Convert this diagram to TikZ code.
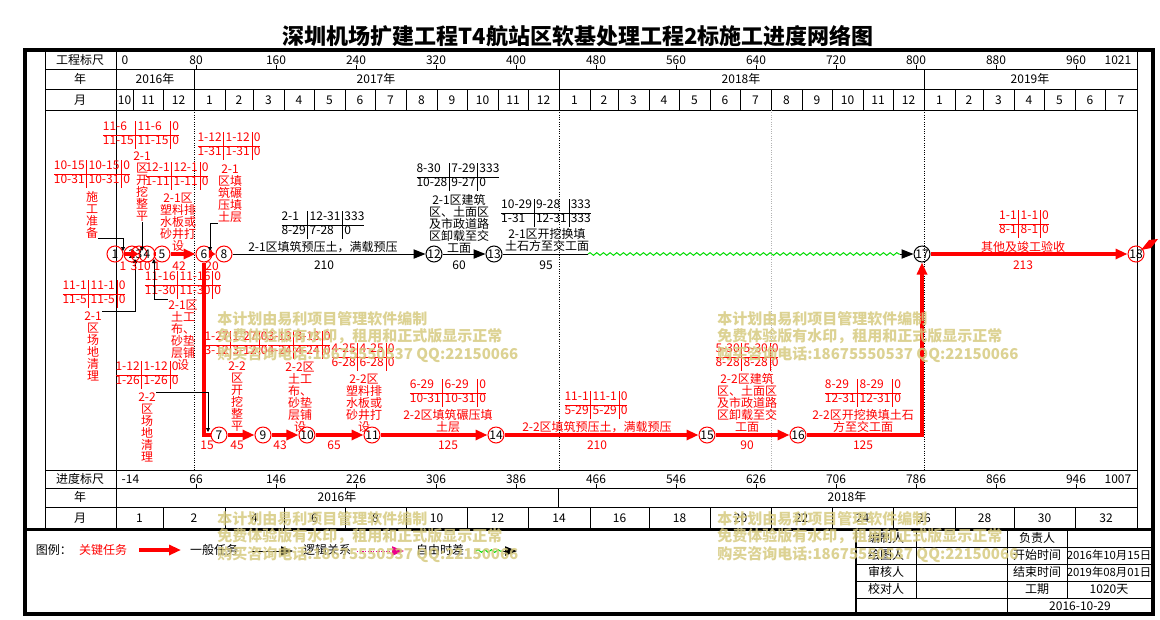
\documentclass[tikz,border=0pt]{standalone}
\usepackage{fontspec}
\setmainfont{Noto Sans CJK SC}
\usetikzlibrary{arrows.meta,decorations.pathmorphing}
\definecolor{wmark}{RGB}{214,202,128}
\definecolor{slackgreen}{RGB}{0,220,0}
\setlength{\tabcolsep}{1.5pt}
\newcommand{\dtab}[6]{\begin{tabular}{@{}l|l|l@{}}#1&#2&#3\\\hline#4&#5&#6\end{tabular}}
\newcommand{\wmtext}{本计划由易利项目管理软件编制\\免费体验版有水印，租用和正式版显示正常\\购买咨询电话:18675550537 QQ:22150066}
\begin{document}
\begin{tikzpicture}[x=0.75pt,y=-0.75pt,font=\fontsize{9}{9}\selectfont,
	nd/.style={circle,draw=red,line width=0.75pt,minimum size=12pt,inner sep=0pt},
	ndk/.style={nd,draw=black},
	crit/.style={draw=red,line width=3pt,-{Triangle[length=9pt,width=7.5pt]}},
	crits/.style={draw=red,line width=3pt,-{Triangle[length=5pt,width=6pt]}},
	critl/.style={draw=red,line width=3pt},
	gen/.style={draw=black,line width=0.75pt,-{Triangle[length=9pt,width=7pt]}},
	lead/.style={draw=black,line width=0.6pt,-{Triangle[length=3pt,width=3pt]}},
	slack/.style={draw=slackgreen,line width=0.75pt,decorate,decoration={snake,amplitude=1pt,segment length=5pt}},
	tb/.style={inner sep=0pt,text=red,font=\fontsize{9}{10}\selectfont},
	tbk/.style={tb,text=black},
	lb/.style={inner sep=0pt,align=center,text=red},
	lbk/.style={lb,text=black},
	du/.style={inner sep=0pt,text=red},
	duk/.style={du,text=black},
	wmk/.style={inner sep=0pt,align=left,text=wmark,opacity=0.85,font=\bfseries\fontsize{11.25}{13}\selectfont}]
	\useasboundingbox (0,0) rectangle (1160,619);
	%title
	\node[font=\bfseries\fontsize{16.5}{16.5}\selectfont] (title) at (578,36) {深圳机场扩建工程T4航站区软基处理工程2标施工进度网络图};
	%frame
	\draw[line width=3pt] (25,50) rectangle (1153,614);
	\draw[line width=2.25pt] (25,529) -- (1153,529);
	\draw (45,50) -- (45,529);
	\draw (116,50) -- (116,529);
	\draw (1137,50) -- (1137,529);
	\foreach \y in {69,89,110,470,488,507}
	\draw (45,\y) -- (1137,\y);
	%top scale
	\node (hgc) at (80,60) {工程标尺};
	\node (hyr) at (80,79) {年};
	\node (hmo) at (80,100) {月};
	\node[anchor=west] at (117,60) {0};
	\foreach \v in {80,160,...,960}
	{\draw ({116+\v},69) -- ({116+\v},65);
	\node at ({116+\v},60) {\v};}
	\node[anchor=east] at (1136,60) {1021};
	\foreach \x in {194,559,924}
	\draw (\x,69) -- (\x,89);
	\node at (155,79) {2016年};
	\node at (376,79) {2017年};
	\node at (741,79) {2018年};
	\node at (1030,79) {2019年};
	\foreach \a/\b/\m in {116/133/10,133/163/11,163/194/12,194/225/1,225/253/2,253/284/3,284/314/4,314/345/5,345/375/6,375/406/7,406/437/8,437/467/9,467/498/10,498/528/11,528/559/12,559/590/1,590/618/2,618/649/3,649/679/4,679/710/5,710/740/6,740/771/7,771/802/8,802/832/9,832/863/10,863/893/11,893/924/12,924/955/1,955/983/2,983/1014/3,1014/1044/4,1044/1075/5,1075/1105/6,1105/1137/7}
	{\draw (\b,89) -- (\b,110);
	\node at ({(\a+\b)/2},100) {\m};}
	%bottom scale
	\node (bgc) at (80,479) {进度标尺};
	\node (byr) at (80,497) {年};
	\node (bmo) at (80,518) {月};
	\node[anchor=west] at (117,479) {-14};
	\foreach \v [evaluate=\v as \w using {int(\v-14)}] in {80,160,...,960}
	{\draw ({116+\v},488) -- ({116+\v},484);
	\node at ({116+\v},479) {\w};}
	\node[anchor=east] at (1136,479) {1007};
	\draw (558,488) -- (558,507);
	\node at (337,497) {2016年};
	\node at (847,497) {2018年};
	\foreach \a/\b/\m in {116/163/1,163/225/2,225/284/4,284/345/6,345/406/8,406/467/10,467/528/12,528/590/14,590/649/16,649/710/18,710/771/20,771/832/22,832/893/24,893/955/26,955/1014/28,1014/1075/30,1075/1137/32}
	{\draw (\b,507) -- (\b,529);
	\node at ({(\a+\b)/2},518) {\m};}
	%time lines
	\foreach \x in {194,559,924}
	\draw[dash pattern=on 0.75pt off 1pt] (\x,110) -- (\x,470);
	\draw[gray!60,dash pattern=on 0.75pt off 1pt] (771,110) -- (771,470);
	%events
	\node[nd] (n1) at (115,254) {1};
	\node[nd] (n2) at (132,254) {2};
	\node[nd] (n3) at (139,254) {3};
	\node[nd] (n4) at (147,254) {4};
	\node[nd] (n5) at (162,254) {5};
	\node[nd] (n6) at (204,254) {6};
	\node[nd] (n8) at (224,254) {8};
	\node[ndk] (n12) at (434,254) {12};
	\node[ndk] (n13) at (494,254) {13};
	\node[ndk] (n17) at (922,254) {17};
	\node[nd] (n18) at (1136,254) {18};
	\node[nd] (n7) at (219,435) {7};
	\node[nd] (n9) at (263,435) {9};
	\node[nd] (n10) at (307,435) {10};
	\node[nd] (n11) at (372,435) {11};
	\node[nd] (n14) at (496,435) {14};
	\node[nd] (n15) at (707,435) {15};
	\node[nd] (n16) at (798,435) {16};
	\coordinate (f1) at (588,254);
	\coordinate (f2) at (900,254);
	%tasks
	\draw[critl] (n1) -- (n2);
	\draw[critl] (n2) -- (n3);
	\draw[crits] (n3) -- (n4);
	\draw[critl] (n4) -- (n5);
	\draw[crit] (n5) -- (n6);
	\draw[crits] (n6) -- (n8);
	\draw[critl] (n6) |- (n7);
	\draw[gen] (n8) -- (n12);
	\draw[gen] (n12) -- (n13);
	\draw[line width=0.75pt] (n13) -- (f1);
	\draw[slack] (f1) -- (f2);
	\draw[gen] (f2) -- (n17);
	\draw[crit] (n17) -- (n18);
	\draw[crit] (n7) -- (n9);
	\draw[crit] (n9) -- (n10);
	\draw[crit] (n10) -- (n11);
	\draw[crit] (n11) -- (n14);
	\draw[crit] (n14) -- (n15);
	\draw[crit] (n15) -- (n16);
	\draw[crit] (n16) -| (n17);
	\fill[red] (1141,250) -- (1149,240) -- (1158,239) -- (1151,248) -- cycle;
	%time tables
	\node[tb] (t1) at (92,174) {\dtab{10-15}{10-15}{0}{10-31}{10-31}{0}};
	\node[tb] (t2) at (141,135) {\dtab{11-6}{11-6}{0}{11-15}{11-15}{0}};
	\node[tb] (t3) at (177,176) {\dtab{12-1}{12-1}{0}{1-11}{1-11}{0}};
	\node[tb] (t4) at (229,146) {\dtab{1-12}{1-12}{0}{1-31}{1-31}{0}};
	\node[tb] (t5) at (94,294) {\dtab{11-1}{11-1}{0}{11-5}{11-5}{0}};
	\node[tb] (t6) at (183,285) {\dtab{11-16}{11-16}{0}{11-30}{11-30}{0}};
	\node[tb] (t7) at (147,375) {\dtab{1-12}{1-12}{0}{1-26}{1-26}{0}};
	\node[tbk] (t8) at (323,225) {\dtab{2-1}{12-31}{333}{8-29}{7-28}{0}};
	\node[tbk] (t9) at (458,177) {\dtab{8-30}{7-29}{333}{10-28}{9-27}{0}};
	\node[tbk] (t10) at (546,213) {\dtab{10-29}{9-28}{333}{1-31}{12-31}{333}};
	\node[tb] (t11) at (1024,224) {\dtab{1-1}{1-1}{0}{8-1}{8-1}{0}};
	\node[tb] (t12) at (236,345) {\dtab{1-27}{1-27}{0}{3-12}{3-12}{0}};
	\node[tb] (t13) at (299,345) {\dtab{3-13}{3-13}{0}{4-24}{4-24}{0}};
	\node[tb] (t14) at (363,357) {\dtab{4-25}{4-25}{0}{6-28}{6-28}{0}};
	\node[tb] (t15) at (448,393) {\dtab{6-29}{6-29}{0}{10-31}{10-31}{0}};
	\node[tb] (t16) at (596,405) {\dtab{11-1}{11-1}{0}{5-29}{5-29}{0}};
	\node[tb] (t17) at (747,357) {\dtab{5-30}{5-30}{0}{8-28}{8-28}{0}};
	\node[tb] (t18) at (863,393) {\dtab{8-29}{8-29}{0}{12-31}{12-31}{0}};
	%task names
	\node[lb] (l1) at (92,215) {施\\工\\准\\备};
	\node[lb] (l2) at (142,187) {2-1\\区\\开\\挖\\整\\平};
	\node[lb] (l3) at (178,222) {2-1区\\塑料排\\水板或\\砂井打\\设};
	\node[lb] (l4) at (230,194) {2-1\\区填\\筑碾\\压填\\土层};
	\node[lb] (l5) at (93,346) {2-1\\区\\场\\地\\清\\理};
	\node[lb] (l6) at (183,335) {2-1区\\土工\\布、\\砂垫\\层铺\\设};
	\node[lb] (l7) at (147,427) {2-2\\区\\场\\地\\清\\理};
	\node[lbk] (l8) at (323,247) {2-1区填筑预压土，满载预压};
	\node[lbk] (l9) at (459,224) {2-1区建筑\\区、土面区\\及市政道路\\区卸载至交\\工面};
	\node[lbk] (l10) at (547,240) {2-1区开挖换填\\土石方至交工面};
	\node[lb] (l11) at (1023,247) {其他及竣工验收};
	\node[lb] (l12) at (237,397) {2-2\\区\\开\\挖\\整\\平};
	\node[lb] (l13) at (300,397) {2-2区\\土工\\布、\\砂垫\\层铺\\设};
	\node[lb] (l14) at (364,403) {2-2区\\塑料排\\水板或\\砂井打\\设};
	\node[lb] (l15) at (448,421) {2-2区填筑碾压填\\土层};
	\node[lb] (l16) at (597,427) {2-2区填筑预压土，满载预压};
	\node[lb] (l17) at (747,403) {2-2区建筑\\区、土面区\\及市政道路\\区卸载至交\\工面};
	\node[lb] (l18) at (863,421) {2-2区开挖换填土石\\方至交工面};
	%leaders
	\coordinate (k1) at (123,251);
	\coordinate (k2) at (142,251);
	\coordinate (k4) at (210,251);
	\coordinate (k5) at (135,259);
	\coordinate (k6) at (154,259);
	\coordinate (k7) at (208,432);
	\draw[lead] (l1.south east) -| (k1);
	\draw[lead] (l2.south) -- (k2);
	\draw[lead] (l4.south west) -| (k4);
	\draw[lead] (l5.north east) -| (k5);
	\draw[lead] (l6.north west) -| (k6);
	\draw[lead] (l7.north east) -| (k7);
	%durations
	\node[du] (d1) at (123,266) {1};
	\node[du] (d2) at (134,266) {3};
	\node[du] (d3) at (144,266) {10};
	\node[du] (d4) at (157,266) {1};
	\node[du] (d5) at (179,266) {42};
	\node[du] (d6) at (212,266) {20};
	\node[duk] (d8) at (324,265) {210};
	\node[duk] (d12) at (459,265) {60};
	\node[duk] (d13) at (546,265) {95};
	\node[du] (d17) at (1023,265) {213};
	\node[du] (d7) at (207,445) {15};
	\node[du] (d9) at (237,445) {45};
	\node[du] (d10) at (280,445) {43};
	\node[du] (d11) at (334,445) {65};
	\node[du] (d14) at (448,445) {125};
	\node[du] (d15) at (597,445) {210};
	\node[du] (d16) at (747,445) {90};
	\node[du] (d18) at (863,445) {125};
	%legend
	\node (lgd) at (54,550) {图例：};
	\node[text=red] (lkey) at (103,550) {关键任务};
	\coordinate (c1) at (139,550);
	\coordinate (c2) at (181,550);
	\draw[crit] (c1) -- (c2);
	\node (lgen) at (214,550) {一般任务};
	\coordinate (c3) at (252,551);
	\coordinate (c4) at (293,551);
	\draw[gen] (c3) -- (c4);
	\node (llog) at (327,550) {逻辑关系};
	\coordinate (c5) at (357,551);
	\coordinate (c6) at (404,551);
	\draw[magenta,line width=0.75pt,dash pattern=on 1pt off 1pt,-{Triangle[length=9pt,width=7pt]}] (c5) -- (c6);
	\node (lfree) at (440,550) {自由时差};
	\coordinate (c7) at (476,551);
	\coordinate (c8) at (503,551);
	\coordinate (c9) at (517,551);
	\draw[slack] (c7) -- (c8);
	\draw[gen] (c8) -- (c9);
	%sign table
	\draw[line width=1.5pt] (856,529) -- (856,614);
	\foreach \y in {547,564,581,598}
	\draw (856,\y) -- (1153,\y);
	\draw (916,529) -- (916,598);
	\draw (1007,529) -- (1007,614);
	\draw (1067,529) -- (1067,598);
	\node (s1) at (886,538) {编制人};
	\node (s2) at (886,555) {绘图人};
	\node (s3) at (886,572) {审核人};
	\node (s4) at (886,589) {校对人};
	\node (s5) at (1037,538) {负责人};
	\node (s6) at (1037,555) {开始时间};
	\node (s7) at (1037,572) {结束时间};
	\node (s8) at (1037,589) {工期};
	\node[font=\fontsize{8.5}{8.5}\selectfont] (s9) at (1109,555) {2016年10月15日};
	\node[font=\fontsize{8.5}{8.5}\selectfont] (s10) at (1109,572) {2019年08月01日};
	\node (s11) at (1109,589) {1020天};
	\node (s12) at (1080,606) {2016-10-29};
	%watermark
	\foreach \x/\y in {217/337,717/337,217/537,717/537}
	\node[wmk,anchor=west] at (\x,\y) {\wmtext};
\end{tikzpicture}
\end{document}
